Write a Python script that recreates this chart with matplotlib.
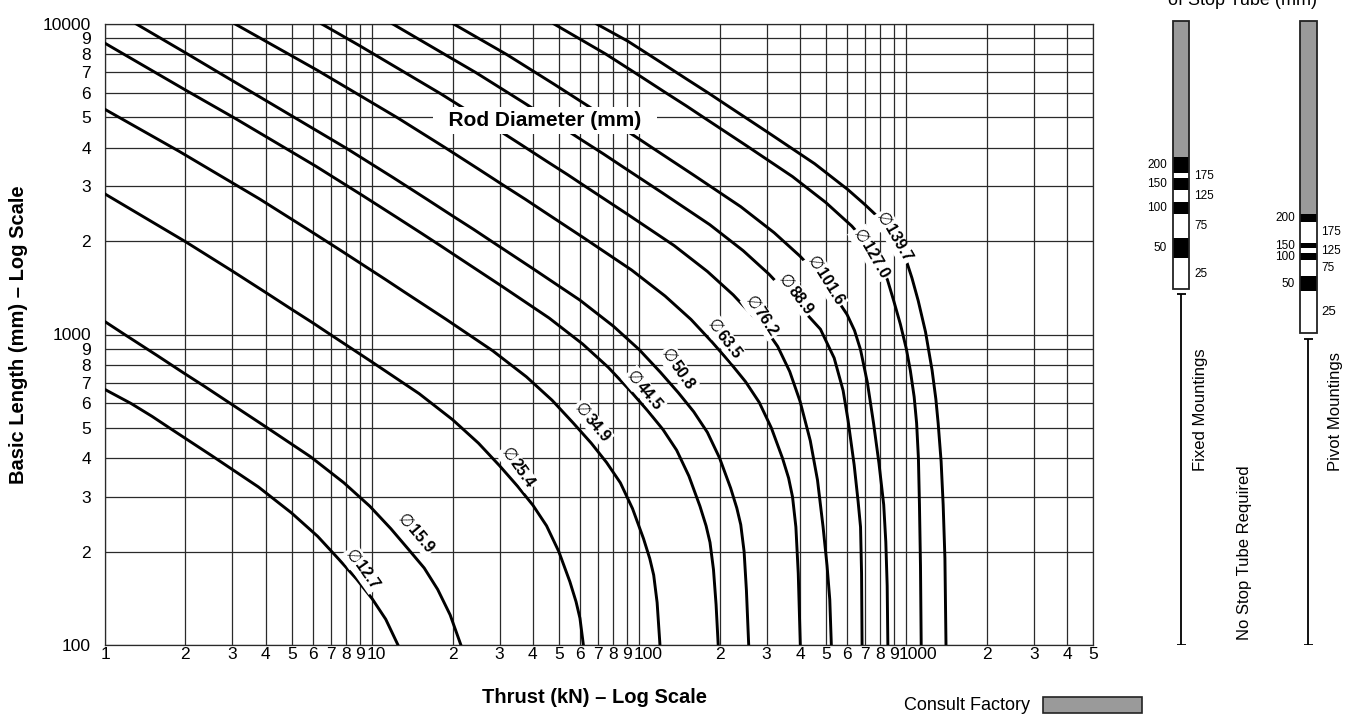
import matplotlib.pyplot as plt
from matplotlib.transforms import ScaledTranslation

plt.rcParams['font.family'] = ['Liberation Sans', 'DejaVu Sans']

# Datos: empuje (kN) y longitud basica (mm) por diametro de vastago
rod_names = ['12.7', '15.9', '25.4', '34.9', '44.5', '50.8',
             '63.5', '76.2', '88.9', '101.6', '127.0', '139.7']

f_12_7 = [1, 1.25, 1.5, 1.75, 2.5, 3.75, 5, 6.25, 7.5, 8.75, 10, 11.25, 12.5]
l_12_7 = [665, 600, 545, 499, 408, 323, 266, 224, 189, 163, 141, 121, 100]

f_15_9 = [1, 1.18, 1.57, 1.96, 2.35, 2.74, 3.92, 5.88, 7.84, 9.8, 11.75, 13.7, 15.67, 17.6, 19.6, 21.5]
l_15_9 = [1100, 1002, 855, 754, 682, 625, 510, 404, 333, 280, 237, 203, 177, 151, 125, 100]

f_25_4 = [1, 2, 3, 4, 5, 6, 7, 10, 15, 20, 25, 30, 35, 40, 45, 50, 55, 58, 60, 61.8]
l_25_4 = [2835, 1991, 1600, 1365, 1205, 1090, 998, 815, 645, 532, 447, 378, 325, 282, 242, 200, 160, 138, 122, 100]

f_34_9 = [1, 1.89, 3.78, 5.66, 7.55, 9.44, 11.3, 13.2, 18.9, 28.3, 37.8, 47.2, 56.6, 66.1,
          75.5, 85, 94.4, 103.8, 109.5, 113.3, 116.7, 119.6]
l_34_9 = [5309, 3895, 2736, 2198, 1876, 1656, 1498, 1371, 1120, 886, 731, 614, 519, 447,
          387, 333, 275, 220, 190, 168, 137, 100]

f_44_5 = [1, 2, 3.07, 6.14, 9.21, 12.3, 15.4, 18.4, 21.5, 30.7, 46, 61.4, 76.7, 92.1,
          107.4, 122.8, 138.1, 153.5, 168.8, 178, 184.1, 189.7, 194, 197.6]
l_44_5 = [8670, 6130, 4967, 3488, 2803, 2391, 2111, 1910, 1748, 1428, 1130, 932, 783, 662,
          569, 494, 424, 350, 280, 242, 214, 175, 135, 100]

f_50_8 = [1.31, 2, 4, 8, 12, 16, 20, 24, 28, 40, 60, 80, 100, 120, 140, 160, 180, 200,
          220, 232, 240, 247, 252, 257]
l_50_8 = [10000, 8080, 5670, 3982, 3200, 2730, 2410, 2180, 1996, 1630, 1290, 1064, 894, 756,
          650, 564, 484, 400, 320, 276, 244, 200, 150, 100]

f_63_5 = [3.07, 6.25, 12.5, 18.75, 25, 31.25, 37.5, 43.75, 62.5, 93.75, 125, 156.3, 187.5,
          218.8, 250, 281.3, 312.5, 343.8, 362.5, 375, 386, 394, 401]
l_63_5 = [10000, 7088, 4978, 4000, 3412, 3012, 2725, 2495, 2038, 1612, 1330, 1118, 945,
          812, 705, 605, 500, 400, 345, 300, 240, 170, 100]

f_76_2 = [6.48, 9, 18, 27, 36, 45, 54, 63, 90, 135, 180, 225, 270, 300, 330, 366, 400,
          437, 465, 488, 505, 517, 524]
l_76_2 = [10000, 8505, 5973, 4800, 4095, 3615, 3270, 2994, 2445, 1935, 1596, 1341, 1134,
          1030, 915, 760, 610, 455, 340, 240, 180, 140, 100]

f_88_9 = [11.95, 24.5, 36.75, 49, 61.25, 73.5, 85.75, 122.5, 183.75, 245, 306, 367.5,
          428.8, 477, 537, 580, 605, 638, 660, 674, 680, 683]
l_88_9 = [10000, 6969, 5600, 4778, 4218, 3815, 3493, 2853, 2258, 1862, 1565, 1323,
          1150, 1040, 840, 660, 530, 380, 290, 240, 170, 100]

f_101_6 = [20.2, 32, 48, 64, 80, 96, 112, 160, 240, 320, 400, 480, 540, 600, 640, 674,
           715, 754, 790, 823, 838, 848, 853]
l_101_6 = [10000, 7964, 6400, 5460, 4820, 4360, 3992, 3260, 2580, 2128, 1788, 1512, 1330,
           1160, 1030, 893, 700, 518, 385, 283, 215, 155, 100]

f_127_0 = [48, 75, 100, 125, 150, 175, 250, 375, 500, 625, 700, 754, 800, 850, 897, 950,
           1000, 1035, 1070, 1093, 1110, 1120, 1130, 1137]
l_127_0 = [10000, 8000, 6825, 6025, 5450, 4990, 4075, 3225, 2660, 2235, 2000, 1830, 1680,
           1500, 1285, 1080, 900, 767, 630, 518, 400, 283, 180, 100]

f_139_7 = [69.3, 90.75, 121, 151.3, 181.5, 211.8, 302.5, 453.8, 605, 700, 800, 860, 912,
           960, 1000, 1050, 1108, 1180, 1249, 1290, 1316, 1350, 1374, 1395, 1408]
l_139_7 = [10000, 8800, 7508, 6628, 5995, 5489, 4483, 3548, 2926, 2620, 2350, 2180, 2030,
           1880, 1730, 1520, 1285, 1020, 767, 620, 518, 390, 283, 190, 100]

thrust = [f_12_7, f_15_9, f_25_4, f_34_9, f_44_5, f_50_8,
          f_63_5, f_76_2, f_88_9, f_101_6, f_127_0, f_139_7]
length = [l_12_7, l_15_9, l_25_4, l_34_9, l_44_5, l_50_8,
          l_63_5, l_76_2, l_88_9, l_101_6, l_127_0, l_139_7]

# Punto de union entre el simbolo y el numero de cada etiqueta, y su giro
label_f = [8.8, 13.9, 33.7, 63.7, 100, 134.6, 199.5, 277, 370, 471, 697, 851]
label_l = [184, 240, 392, 546, 693, 815, 1019, 1208, 1413, 1614, 1971, 2234]
label_rot = [-55, -50, -55, -50, -50, -55, -52, -57, -53, -58, -60, -60]

# Ejes
x_tick_vals = [1, 2, 3, 4, 5, 6, 7, 8, 9, 10, 20, 30, 40, 50, 60, 70, 80, 90,
               100, 200, 300, 400, 500, 600, 700, 800, 900, 1000, 2000, 3000, 4000, 5000]
x_tick_text = ['1', '2', '3', '4', '5', '6', '7', '8', '9', '10', '2', '3', '4', '5', '6', '7', '8', '9',
               '100', '2', '3', '4', '5', '6', '7', '8', '9', '1000', '2', '3', '4', '5']
y_tick_vals = [100, 200, 300, 400, 500, 600, 700, 800, 900,
               1000, 2000, 3000, 4000, 5000, 6000, 7000, 8000, 9000, 10000]
y_tick_text = ['100', '2', '3', '4', '5', '6', '7', '8', '9',
               '1000', '2', '3', '4', '5', '6', '7', '8', '9', '10000']

# Barras de tubo de tope (limites en longitud basica, mm)
fixed_edges = [10230, 3730, 3320, 3180, 2920, 2680, 2440, 2040, 1760, 1400]
pivot_edges = [10230, 2440, 2310, 1975, 1895, 1826, 1738, 1543, 1380, 1009]
band_colors = ['#9a9a9a', 'black', 'white', 'black', 'white', 'black', 'white', 'black', 'white']
band_values = [None, 200, 175, 150, 125, 100, 75, 50, 25]
fixed_range = [100, 1347]
pivot_range = [100, 967]

fig = plt.figure(figsize=(13.71, 7.15), dpi=100)
ax = fig.add_axes([105 / 1371, 70 / 715, 988 / 1371, 621 / 715])
ax.set_xscale('log')
ax.set_yscale('log')
ax.set_xlim(1, 5000)
ax.set_ylim(100, 10000)
ax.set_xticks(x_tick_vals)
ax.set_xticklabels(x_tick_text)
ax.set_yticks(y_tick_vals)
ax.set_yticklabels(y_tick_text)
ax.minorticks_off()
ax.tick_params(axis='both', length=0, labelsize=12.5)
ax.tick_params(axis='x', pad=1.5)
ax.tick_params(axis='y', pad=10)
ax.grid(True, color='#2a2a2a', linewidth=0.9)
for sp in ax.spines.values():
    sp.set_color('#2a2a2a')
    sp.set_linewidth(0.9)

# "10", "100" y "1000" van un poco a la derecha de su linea
shift = {'10': 4, '100': 9, '1000': 12}
for lab, txt in zip(ax.get_xticklabels(), x_tick_text):
    if txt in shift:
        lab.set_transform(lab.get_transform() + ScaledTranslation(shift[txt] / 100, 0, fig.dpi_scale_trans))

for f, l in zip(thrust, length):
    ax.plot(f, l, color='black', linewidth=2.1, solid_joinstyle='round', zorder=3)

box = dict(facecolor='white', edgecolor='none', pad=1.2)
for name, fx, ly, rot in zip(rod_names, label_f, label_l, label_rot):
    ax.text(fx, ly, '\u2205', rotation=rot, rotation_mode='anchor', ha='right', va='center',
            fontsize=12, family='DejaVu Sans', zorder=4, bbox=box)
    ax.text(fx, ly, name, rotation=rot, rotation_mode='anchor', ha='left', va='center',
            fontsize=11.5, fontweight='bold', zorder=4, bbox=box)

ax.text(0.445, 0.845, '  Rod Diameter (mm)  ', transform=ax.transAxes, ha='center', va='center',
        fontsize=15, fontweight='bold', zorder=4,
        bbox=dict(facecolor='white', edgecolor='none', pad=3))

ax.set_xlabel('Thrust (kN) \u2013 Log Scale', fontsize=14.5, fontweight='bold')
ax.xaxis.set_label_coords(0.495, -0.084)
ax.xaxis.label.set_va('center')
ax.set_ylabel('Basic Length (mm) \u2013 Log Scale', fontsize=14.5, fontweight='bold')
ax.yaxis.set_label_coords(-0.088, 0.5)
ax.yaxis.label.set_va('center')

# Panel derecho: tubo de tope
pan = fig.add_axes([1100 / 1371, 70 / 715, 271 / 1371, 621 / 715])
pan.set_yscale('log')
pan.set_ylim(100, 10000)
pan.set_xlim(0, 271)
pan.axis('off')


def stop_bar(x, w, edges, lab_left, lab_right, big25=False):
    for i, c in enumerate(band_colors):
        pan.bar(x, edges[i] - edges[i + 1], bottom=edges[i + 1], width=w, color=c,
                edgecolor='none', clip_on=False)
    pan.bar(x, edges[0] - edges[-1], bottom=edges[-1], width=w, fill=False,
            edgecolor='#222222', linewidth=1.3, clip_on=False)
    for i, v in enumerate(band_values):
        if v is None:
            continue
        ymid = (edges[i] * edges[i + 1]) ** 0.5
        size = 9.5 if (big25 and v == 25) else 8.5
        if band_colors[i] == 'black':
            pan.text(lab_left, ymid, str(v), ha='right', va='center', fontsize=size)
        else:
            pan.text(lab_right, ymid, str(v), ha='left', va='center', fontsize=size)


stop_bar(81, 16.5, fixed_edges, 67, 94)
stop_bar(208.6, 17.3, pivot_edges, 195, 221, big25=True)

for x, rng in [(81, fixed_range), (208.3, pivot_range)]:
    pan.vlines(x, rng[0], rng[1], color='black', linewidth=1.3)
    pan.hlines(rng, x - 4.5, x + 4.5, color='black', linewidth=1.3)

pan.text(101, 571, 'Fixed Mountings', rotation=90, ha='center', va='center', fontsize=12)
pan.text(144, 199, 'No Stop Tube Required', rotation=90, ha='center', va='center', fontsize=12)
pan.text(235.5, 566, 'Pivot Mountings', rotation=90, ha='center', va='center', fontsize=12)

fig.text(1242.5 / 1371, 1 - 5 / 715, 'of Stop Tube (mm)', ha='center', va='baseline', fontsize=13)
fig.text(1030 / 1371, 1 - 705 / 715, 'Consult Factory', ha='right', va='center', fontsize=13)
fig.patches.append(plt.Rectangle((1043 / 1371, 1 - 713 / 715), 99 / 1371, 16 / 715,
                                 transform=fig.transFigure, facecolor='#9a9a9a',
                                 edgecolor='#222222', linewidth=1.2))

fig.savefig('out.png', dpi=100)
